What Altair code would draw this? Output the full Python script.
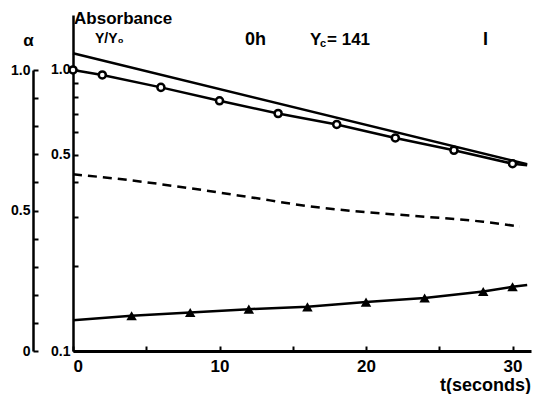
import altair as alt
import pandas as pd

# ---------------- data ----------------
# open circles: Y/Y0 (log axis)
circle_t = [0, 2, 6, 10, 14, 18, 22, 26, 30]
circle_v = [1.0, 0.96, 0.867, 0.777, 0.700, 0.640, 0.573, 0.518, 0.464]
circle_end_t = 31.0
circle_end_v = 0.458

# upper solid line: absorbance (log axis)
upper_t = [0, 31.0]
upper_v = [1.147, 0.462]

# filled triangles (log axis)
tri_t = [4, 8, 12, 16, 20, 24, 28, 30]
tri_v = [0.1334, 0.1370, 0.1409, 0.1436, 0.1493, 0.1543, 0.1629, 0.1693]
tri_start_v = 0.1287
tri_end_v = 0.1717

# dashed curve: alpha (linear axis)
dash_t = [0, 4, 8, 12, 16, 20, 24, 28, 30.5]
dash_a = [0.629, 0.607, 0.579, 0.548, 0.516, 0.494, 0.478, 0.460, 0.443]

# axis ticks / labels
x_ticks = [0, 5, 10, 15, 20, 25, 30]
x_labels = [0, 10, 20, 30]
y_ticks = [0.1, 0.2, 0.3, 0.4, 0.5, 0.6, 0.7, 0.8, 0.9, 1.0]
y_labels = [0.1, 0.5, 1.0]
a_ticks = [0, 0.1, 0.2, 0.3, 0.4, 0.5, 0.6, 0.7, 0.8, 0.9, 1.0]
a_labels = [0, 0.5, 1.0]

# annotations (t in seconds, y in alpha units)
ann_text = ["Absorbance", "Y/Y\u2080", "\u03b1", "0h", "Y", "c", "= 141", "I"]
ann_t = [0.07, 1.5, -3.4, 11.74, 16.18, 16.86, 17.34, 27.99]
ann_a = [1.180, 1.110, 1.103, 1.107, 1.107, 1.093, 1.107, 1.107]
ann_size = [17, 14, 17, 18, 17, 11, 17, 18]

FONT = "Liberation Sans"
W, H = 458, 336

# ---------------- tables ----------------
circles = pd.DataFrame({"t": circle_t, "v": circle_v})
circle_line = pd.DataFrame({"t": circle_t + [circle_end_t],
                            "v": circle_v + [circle_end_v]})
upper = pd.DataFrame({"t": upper_t, "v": upper_v})
tris = pd.DataFrame({"t": tri_t, "v": tri_v})
tri_line = pd.DataFrame({"t": [0] + tri_t + [31.0],
                         "v": [tri_start_v] + tri_v + [tri_end_v]})
dash = pd.DataFrame({"t": dash_t, "a": dash_a})
ann = pd.DataFrame({"t": ann_t, "a": ann_a, "text": ann_text, "size": ann_size})

XS = alt.Scale(domain=[0, 31.26], nice=False, zero=False)
YL = alt.Scale(type="log", domain=[0.1, 1.569], nice=False)
YA = alt.Scale(domain=[0, 1], range=[H, 55], nice=False, zero=False)

lbl = dict(labelFont=FONT, labelFontWeight="bold", labelColor="black", grid=False)

# layer 1: upper line + labelled x axis + labelled log axis
l_upper = alt.Chart(upper).mark_line(color="black", strokeWidth=2.5).encode(
    x=alt.X("t:Q", scale=XS, axis=alt.Axis(
        orient="bottom", values=x_labels, tickSize=0, labelPadding=7,
        labelFontSize=17, domainColor="black", domainWidth=3,
        title="t(seconds)", titleFont=FONT, titleFontWeight="bold",
        titleFontSize=18, titleColor="black", titleX=412, titleY=34,
        titleAlign="center", titleBaseline="middle", **lbl)),
    y=alt.Y("v:Q", scale=YL, axis=alt.Axis(
        orient="left", values=y_labels, format=".1f", tickSize=0,
        labelPadding=3, labelFontSize=14, domainColor="black",
        domainWidth=2.5, title=None, **lbl)),
)

# layer 2: circle line + inward ticks on x and log axis
l_cline = alt.Chart(circle_line).mark_line(color="black", strokeWidth=2.5).encode(
    x=alt.X("t:Q", scale=XS, axis=alt.Axis(
        orient="top", offset=-H, values=x_ticks, labels=False, domain=False,
        tickSize=5, tickWidth=2, tickColor="black", title=None, grid=False)),
    y=alt.Y("v:Q", scale=YL, axis=alt.Axis(
        orient="right", offset=-W, values=y_ticks, labels=False, domain=False,
        tickSize=5, tickWidth=2, tickColor="black", title=None, grid=False)),
)

l_circ = alt.Chart(circles).mark_point(
    shape="circle", size=50, filled=True, fill="white", stroke="black",
    strokeWidth=2.5, opacity=1).encode(
    x=alt.X("t:Q", scale=XS, axis=None),
    y=alt.Y("v:Q", scale=YL, axis=None),
)

l_tline = alt.Chart(tri_line).mark_line(color="black", strokeWidth=2.5).encode(
    x=alt.X("t:Q", scale=XS, axis=None),
    y=alt.Y("v:Q", scale=YL, axis=None),
)

l_tri = alt.Chart(tris).mark_point(
    shape="triangle-up", size=110, filled=True, color="black", opacity=1).encode(
    x=alt.X("t:Q", scale=XS, axis=None),
    y=alt.Y("v:Q", scale=YL, axis=None),
)

# dashed alpha curve + inward ticks on alpha axis
l_dash = alt.Chart(dash).mark_line(
    color="black", strokeWidth=2.5, strokeDash=[9, 6], interpolate="monotone").encode(
    x=alt.X("t:Q", scale=XS, axis=None),
    y=alt.Y("a:Q", scale=YA, axis=alt.Axis(
        orient="right", offset=-(W + 40), values=a_ticks, labels=False,
        domain=False, tickSize=5, tickWidth=2, tickColor="black",
        title=None, grid=False)),
)

# annotations + labelled alpha axis
l_text = alt.Chart(ann).mark_text(
    align="left", baseline="middle", font=FONT, fontWeight="bold",
    color="black").encode(
    x=alt.X("t:Q", scale=XS, axis=None),
    y=alt.Y("a:Q", scale=YA, axis=alt.Axis(
        orient="left", offset=40, values=a_labels,
        labelExpr="datum.value == 0 ? '0' : format(datum.value, '.1f')",
        tickSize=0, labelPadding=3, labelFontSize=14, domainColor="black",
        domainWidth=2.5, title=None, **lbl)),
    text="text:N",
    size=alt.Size("size:Q", scale=None, legend=None),
)

chart = alt.layer(
    l_upper, l_cline, l_circ, l_tline, l_tri, l_dash, l_text
).resolve_scale(y="independent").resolve_axis(
    x="independent", y="independent"
).properties(
    width=W, height=H,
    autosize=alt.AutoSizeParams(type="none"),
    padding={"left": 73, "top": 15, "right": 4, "bottom": 43},
    background="white",
).configure_view(stroke=None)

chart.save("out.html", embed_options={"renderer": "svg", "actions": False})
